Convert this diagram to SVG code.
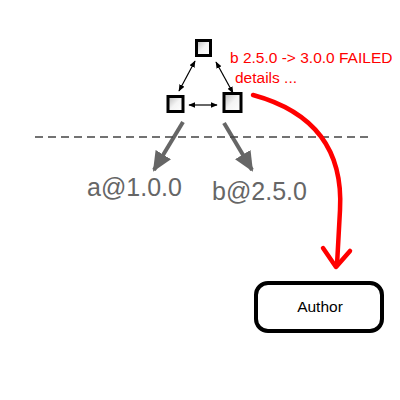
<svg xmlns="http://www.w3.org/2000/svg" width="400" height="400" viewBox="0 0 400 400">
<style>
.box{stroke:#000;stroke-width:3;fill:url(#g)}
.thin{stroke:#000;stroke-width:1.2;fill:none;marker-start:url(#ms);marker-end:url(#me)}
.gray{stroke:#666;stroke-width:4;fill:none;marker-end:url(#mg)}
.lbl{font-family:"Liberation Sans",Arial,sans-serif;fill:#666;font-size:25px}
.red{font-family:"Liberation Sans",Arial,sans-serif;fill:#ff0000;font-size:15.5px}
</style>
<defs>
<linearGradient id="g" x1="0" y1="0" x2="1" y2="1">
<stop offset="0" stop-color="#b8b8b8"/>
<stop offset="0.5" stop-color="#f4f4f4"/>
<stop offset="1" stop-color="#ffffff"/>
</linearGradient>
<marker id="me" viewBox="0 0 10 10" refX="9" refY="5" markerWidth="7" markerHeight="7" markerUnits="userSpaceOnUse" orient="auto"><path d="M0,1 L10,5 L0,9 z" fill="#000"/></marker>
<marker id="ms" viewBox="0 0 10 10" refX="1" refY="5" markerWidth="7" markerHeight="7" markerUnits="userSpaceOnUse" orient="auto"><path d="M10,1 L0,5 L10,9 z" fill="#000"/></marker>
<marker id="mg" viewBox="0 0 10 10" refX="9" refY="5" markerWidth="20" markerHeight="20" markerUnits="userSpaceOnUse" orient="auto"><path d="M0,0.5 L10,5 L0,9.5 z" fill="#666"/></marker>
</defs>
<g id="connectors">
<line class="thin" x1="195" y1="61" x2="179" y2="91"/>
<line class="thin" x1="216" y1="62" x2="233" y2="93"/>
<line class="thin" x1="189" y1="105" x2="217" y2="105"/>
<line class="gray" x1="183" y1="122" x2="154" y2="170"/>
<line class="gray" x1="224" y1="123" x2="252" y2="170"/>
<line x1="35" y1="137" x2="372" y2="137" stroke="#444" stroke-width="1.5" stroke-dasharray="8,5"/>
<path d="M253,95 Q345,120 340,210 L337,265" stroke="#ff0000" stroke-width="4.5" fill="none" stroke-linecap="round"/>
<polyline points="323,248 336,267 350,251" stroke="#ff0000" stroke-width="4.5" fill="none" stroke-linecap="round" stroke-linejoin="round"/>
</g>
<g id="node-top"><rect class="box" x="196.5" y="40.5" width="14" height="15"/></g>
<g id="node-a"><rect class="box" x="168" y="96.5" width="15" height="15"/></g>
<g id="node-b"><rect class="box" x="224" y="93.5" width="17" height="18"/></g>
<g id="label-a"><text class="lbl" x="87" y="196">a@1.0.0</text></g>
<g id="label-b"><text class="lbl" x="212" y="200">b@2.5.0</text></g>
<g id="failed"><text class="red" x="230" y="63">b 2.5.0 -&gt; 3.0.0 FAILED</text><text class="red" x="235" y="83">details ...</text></g>
<g id="author"><rect x="256" y="283" width="126" height="48" rx="12" fill="#fff" stroke="#000" stroke-width="4"/><text x="320" y="312" text-anchor="middle" font-family="Liberation Sans,Arial,sans-serif" font-size="15.5" fill="#000">Author</text></g>
</svg>
